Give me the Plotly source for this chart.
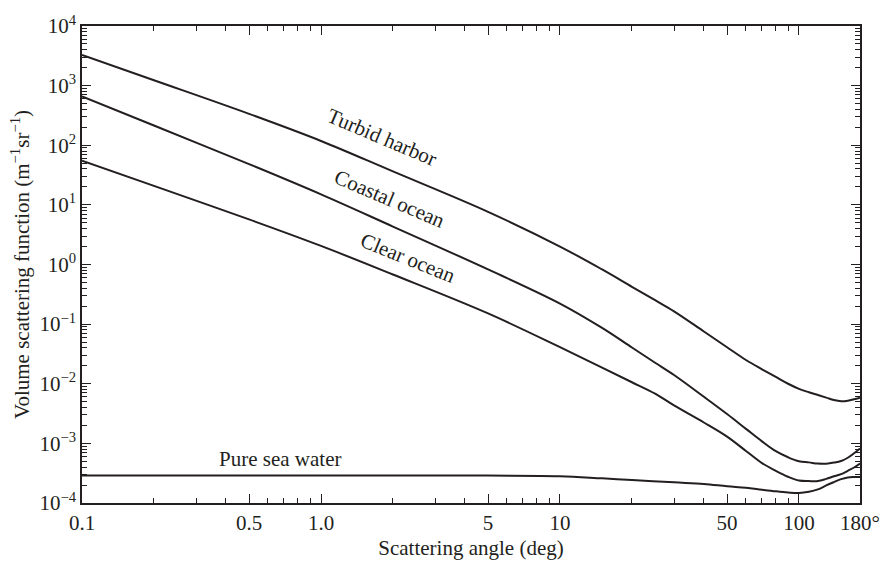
import plotly.graph_objects as go

# Scattering angle grid (degrees) for the particle curves
angle = [0.1, 0.2, 0.5, 1, 2, 5, 10, 15, 20, 25, 30, 40, 50, 60, 70, 80,
         90, 100, 110, 120, 130, 140, 150, 160, 170, 180]

# Volume scattering function, m^-1 sr^-1
turbid_harbor = [3270, 1230, 336, 118, 36.4, 7.64, 2.00, 0.826, 0.423, 0.252,
                 0.164, 0.0753, 0.0409, 0.0250, 0.0175, 0.0130, 0.0100,
                 8.22e-3, 7.21e-3, 6.47e-3, 5.85e-3, 5.32e-3, 5.08e-3,
                 5.18e-3, 5.48e-3, 5.85e-3]
coastal_ocean = [661, 214, 48.2, 15.0, 4.33, 0.828, 0.221, 0.0863, 0.0405,
                 0.0225, 0.0140, 6.04e-3, 3.10e-3, 1.75e-3, 1.08e-3, 7.39e-4,
                 5.85e-4, 5.01e-4, 4.80e-4, 4.58e-4, 4.57e-4, 4.76e-4,
                 5.06e-4, 5.74e-4, 6.81e-4, 8.21e-4]
clear_ocean = [55.2, 20.8, 5.70, 2.05, 0.679, 0.151, 0.0411, 0.0187, 0.0106,
               6.81e-3, 4.33e-3, 2.24e-3, 1.30e-3, 7.47e-4, 4.67e-4, 3.47e-4,
               2.76e-4, 2.38e-4, 2.33e-4, 2.33e-4, 2.54e-4, 2.81e-4, 3.05e-4,
               3.47e-4, 3.94e-4, 4.60e-4]

pure_angle = [0.1, 1, 5, 10, 15, 20, 30, 40, 50, 60, 70, 80, 90, 100, 110,
              120, 130, 140, 150, 160, 170, 180]
pure_sea_water = [2.90e-4, 2.90e-4, 2.88e-4, 2.82e-4, 2.59e-4, 2.43e-4,
                  2.22e-4, 2.09e-4, 1.91e-4, 1.80e-4, 1.67e-4, 1.57e-4,
                  1.50e-4, 1.47e-4, 1.54e-4, 1.69e-4, 1.97e-4, 2.24e-4,
                  2.51e-4, 2.68e-4, 2.72e-4, 2.72e-4]

x_tickvals = [0.1, 0.5, 1, 5, 10, 50, 100, 180]
x_ticktext = ["0.1", "0.5", "1.0", "5", "10", "50", "100", "180°"]
x_minor = [0.2, 0.3, 0.4, 0.6, 0.7, 0.8, 0.9, 2, 3, 4, 6, 7, 8, 9,
           20, 30, 40, 60, 70, 80, 90]
y_exponents = [-4, -3, -2, -1, 0, 1, 2, 3, 4]

INK = "#231f20"
FONT = "Liberation Serif, Times New Roman, serif"
FS = 21

fig = go.Figure()
series = [
    (angle, turbid_harbor, "Turbid harbor"),
    (angle, coastal_ocean, "Coastal ocean"),
    (angle, clear_ocean, "Clear ocean"),
    (pure_angle, pure_sea_water, "Pure sea water"),
]
for xs, ys, name in series:
    fig.add_trace(go.Scatter(
        x=xs, y=ys, mode="lines", name=name,
        line=dict(color=INK, width=2, shape="spline", smoothing=1.0),
        showlegend=False,
    ))

# Curve labels placed along the lines
labels = [
    ("Turbid harbor", 0.385, 0.768, 23),
    ("Coastal ocean", 0.396, 0.638, 23),
    ("Clear ocean", 0.419, 0.514, 22),
    ("Pure sea water", 0.254, 0.092, 0),
]
for text, px, py, rot in labels:
    fig.add_annotation(
        x=px, y=py, xref="paper", yref="paper", text=text,
        showarrow=False, textangle=rot, xanchor="center", yanchor="middle",
        font=dict(family=FONT, size=FS, color=INK),
    )

y_minor = [m * 10.0 ** e for e in range(-4, 4) for m in range(2, 10)]

fig.update_xaxes(
    type="log", range=[-1, 2.25527],
    tickvals=x_tickvals, ticktext=x_ticktext,
    ticks="inside", ticklen=9, tickwidth=1.2, tickcolor=INK,
    minor=dict(tickvals=x_minor, ticks="inside", ticklen=5,
               tickwidth=1.1, tickcolor=INK),
    showline=True, linecolor=INK, linewidth=1.5, mirror="ticks",
    showgrid=False, zeroline=False,
    tickfont=dict(family=FONT, size=FS, color=INK),
    title=dict(text="Scattering angle (deg)",
               font=dict(family=FONT, size=FS, color=INK), standoff=6),
)
fig.update_yaxes(
    type="log", range=[-4, 4],
    tickvals=[10.0 ** e for e in y_exponents],
    ticktext=["10<sup>%s</sup>" % (str(e).replace("-", "−")) for e in y_exponents],
    ticks="inside", ticklen=9, tickwidth=1.2, tickcolor=INK,
    minor=dict(tickvals=y_minor, ticks="inside", ticklen=5,
               tickwidth=1.1, tickcolor=INK),
    showline=True, linecolor=INK, linewidth=1.5, mirror="ticks",
    showgrid=False, zeroline=False,
    tickfont=dict(family=FONT, size=FS, color=INK),
    title=dict(text="Volume scattering function (m<sup>−1</sup>sr<sup>−1</sup>)",
               font=dict(family=FONT, size=FS, color=INK), standoff=4),
)

fig.update_layout(
    width=892, height=568,
    margin=dict(l=82, r=27, t=15, b=63),
    paper_bgcolor="white", plot_bgcolor="white",
)

fig.write_html("out.html")
